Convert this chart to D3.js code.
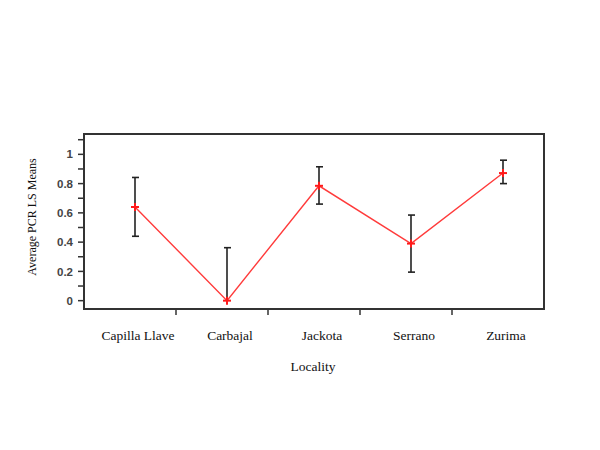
<!DOCTYPE html>
<html>
<head>
<meta charset="utf-8">
<script src="https://cdn.jsdelivr.net/npm/d3@7"></script>
<style>
  html, body { margin: 0; padding: 0; background: #fff; }
  #chart { width: 600px; height: 450px; }
</style>
</head>
<body>
<div id="chart"></div>
<script>
// LS means per locality with their error bars
const localities = ["Capilla Llave", "Carbajal", "Jackota", "Serrano", "Zurima"];
const means = [0.64, 0.0, 0.785, 0.39, 0.872];
const lower = [0.44, 0.0, 0.66, 0.195, 0.80];
const upper = [0.842, 0.362, 0.915, 0.585, 0.96];
const yTicks = [0, 0.1, 0.2, 0.3, 0.4, 0.5, 0.6, 0.7, 0.8, 0.9, 1, 1.1];
const yLabels = [0, 0.2, 0.4, 0.6, 0.8, 1];

const width = 600;
const height = 450;
const margin = { top: 134, right: 56, bottom: 141, left: 84 };
const innerWidth = width - margin.left - margin.right;
const innerHeight = height - margin.top - margin.bottom;

const svg = d3
  .select("#chart")
  .append("svg")
  .attr("width", width)
  .attr("height", height)
  .attr("viewBox", [0, 0, width, height]);

const group = svg
  .append("g")
  .attr("transform", `translate(${margin.left},${margin.top})`);

const x = d3.scaleBand().domain(localities).range([0, innerWidth]);
// marks sit slightly right of the band centre, as in the original plot
const xMark = (d) => x(d) + x.bandwidth() / 2 + 5;

const y = d3.scaleLinear().domain([-0.057, 1.139]).range([innerHeight, 0]);

const rows = localities.map((name, i) => ({
  name,
  mean: means[i],
  lo: lower[i],
  hi: upper[i],
}));

// y ticks (every 0.1, labels every 0.2)
group
  .selectAll(".ytick")
  .data(yTicks)
  .join("line")
  .attr("x1", -6)
  .attr("x2", 0)
  .attr("y1", (d) => y(d))
  .attr("y2", (d) => y(d))
  .attr("stroke", "#333")
  .attr("stroke-width", 1.5);

group
  .selectAll(".ylabel")
  .data(yLabels)
  .join("text")
  .attr("x", -11)
  .attr("y", (d) => y(d))
  .attr("dy", "0.36em")
  .attr("text-anchor", "end")
  .style("font-family", "'Liberation Sans', Arial, sans-serif")
  .style("font-size", "11.5px")
  .style("font-weight", 600)
  .attr("fill", "#444")
  .text((d) => d);

// x ticks at band boundaries
group
  .selectAll(".xtick")
  .data(localities.slice(1))
  .join("line")
  .attr("x1", (d) => x(d))
  .attr("x2", (d) => x(d))
  .attr("y1", innerHeight)
  .attr("y2", innerHeight + 6)
  .attr("stroke", "#333")
  .attr("stroke-width", 1.5);

group
  .selectAll(".xlabel")
  .data(localities)
  .join("text")
  .attr("x", (d) => xMark(d) + 3)
  .attr("y", innerHeight + 31)
  .attr("text-anchor", "middle")
  .style("font-family", "'Liberation Serif', 'Times New Roman', serif")
  .style("font-size", "13.5px")
  .attr("fill", "#111")
  .text((d) => d);

// frame
group
  .append("rect")
  .attr("width", innerWidth)
  .attr("height", innerHeight)
  .attr("fill", "none")
  .attr("stroke", "#333")
  .attr("stroke-width", 2);

// error bars
const bars = group.append("g").attr("stroke", "#222").attr("stroke-width", 1.6);
bars
  .selectAll("line.stem")
  .data(rows)
  .join("line")
  .attr("x1", (d) => xMark(d.name))
  .attr("x2", (d) => xMark(d.name))
  .attr("y1", (d) => y(d.lo))
  .attr("y2", (d) => y(d.hi));

bars
  .selectAll("line.top")
  .data(rows)
  .join("line")
  .attr("x1", (d) => xMark(d.name) - 3)
  .attr("x2", (d) => xMark(d.name) + 4)
  .attr("y1", (d) => y(d.hi))
  .attr("y2", (d) => y(d.hi));

bars
  .selectAll("line.bottom")
  .data(rows.filter((d) => d.lo < d.mean))
  .join("line")
  .attr("x1", (d) => xMark(d.name) - 3)
  .attr("x2", (d) => xMark(d.name) + 4)
  .attr("y1", (d) => y(d.lo))
  .attr("y2", (d) => y(d.lo));

// mean line
const line = d3
  .line()
  .x((d) => xMark(d.name))
  .y((d) => y(d.mean));

group
  .append("path")
  .datum(rows)
  .attr("fill", "none")
  .attr("stroke", "#ff3b3b")
  .attr("stroke-width", 1.4)
  .attr("d", line);

// plus markers
const plus = d3.symbol().type(d3.symbolCross).size(30);
group
  .selectAll(".marker")
  .data(rows)
  .join("g")
  .attr("transform", (d) => `translate(${xMark(d.name)},${y(d.mean)})`)
  .each(function () {
    const g = d3.select(this);
    g.append("line").attr("x1", -4).attr("x2", 4).attr("stroke", "#ff1a1a").attr("stroke-width", 2);
    g.append("line").attr("y1", -4).attr("y2", 4).attr("stroke", "#ff1a1a").attr("stroke-width", 2);
  });

// axis titles
svg
  .append("text")
  .attr("transform", `translate(36,${margin.top + 83}) rotate(-90)`)
  .attr("text-anchor", "middle")
  .style("font-family", "'Liberation Serif', 'Times New Roman', serif")
  .style("font-size", "12px")
  .attr("fill", "#111")
  .text("Average PCR LS Means");

svg
  .append("text")
  .attr("x", margin.left + innerWidth / 2 - 1)
  .attr("y", 371)
  .attr("text-anchor", "middle")
  .style("font-family", "'Liberation Serif', 'Times New Roman', serif")
  .style("font-size", "13.5px")
  .attr("fill", "#111")
  .text("Locality");
</script>
</body>
</html>
